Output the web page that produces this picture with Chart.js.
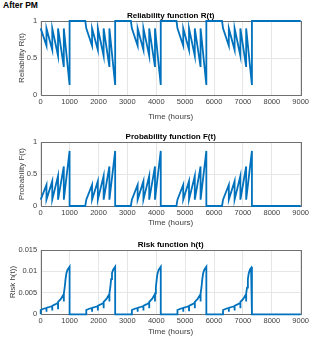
<!DOCTYPE html>
<html>
<head>
<meta charset="utf-8">
<script src="https://cdn.jsdelivr.net/npm/chart.js@4.4.1/dist/chart.umd.min.js"></script>
<style>
  body { margin: 0; background: #fff; width: 313px; height: 342px; position: relative; overflow: hidden; }
  #hdr { position: absolute; left: 3px; top: 0; font: bold 8.5px "Liberation Sans", Arial, sans-serif; color: #000; }
  canvas { position: absolute; left: 0; }
</style>
</head>
<body>
<div id="hdr">After PM</div>
<canvas id="c1" width="313" height="122" style="top:0"></canvas>
<canvas id="c2" width="313" height="108" style="top:122px"></canvas>
<canvas id="c3" width="313" height="112" style="top:230px"></canvas>
<script>
// data
const cycleStarts = [0, 1578, 3156, 4734, 6312]; // hours
const rampLead = 35;   // later cycles slide from the rest value 35 h before the start
const tEnd = 9000;

// one maintenance cycle, time relative to its start
const toothT = [0, 200, 200, 400, 400, 600, 600, 800, 800, 1000, 1000];
const relR   = [0.9, 0.666, 0.9, 0.61, 0.9, 0.53, 0.9, 0.38, 0.9, 0.135, 1];
const probF  = [0.1, 0.334, 0.1, 0.39, 0.1, 0.47, 0.1, 0.62, 0.1, 0.865, 0];

const riskT = [0, 0, 100, 198, 200, 203, 300, 398, 400, 403, 500, 598, 600, 603,
               700, 760, 798, 800, 803, 830, 860, 890, 930, 970, 1000, 1000];
const riskH = [0, 0.0010, 0.0013, 0.0015, 0.0006, 0.0015, 0.0017, 0.0019, 0.0009, 0.0020,
               0.0023, 0.0027, 0.0014, 0.0029, 0.0036, 0.0043, 0.0047, 0.0030, 0.0049,
               0.0062, 0.0082, 0.0096, 0.0104, 0.0108, 0.0111, 0];

const xTicks = [0, 1000, 2000, 3000, 4000, 5000, 6000, 7000, 8000, 9000];

function build(ts, vs, rest) {
  const pts = [];
  cycleStarts.forEach((s, i) => {
    if (i > 0) pts.push({x: s - rampLead, y: rest});
    ts.forEach((t, j) => pts.push({x: s + t, y: vs[j]}));
  });
  pts.push({x: tEnd, y: rest});
  return pts;
}

const FONT = '"Liberation Sans", Arial, sans-serif';
const TXT = '#404040';

// axes box + subplot title, MATLAB style
const frame = {
  id: 'frame',
  beforeDatasetsDraw(chart) {
    const {ctx, chartArea: a} = chart;
    ctx.save();
    ctx.strokeStyle = '#707070';
    ctx.lineWidth = 1;
    ctx.strokeRect(Math.round(a.left) + 0.5, Math.round(a.top) + 0.5,
                   Math.round(a.right - a.left), Math.round(a.bottom - a.top));
    ctx.restore();
  },
  afterDraw(chart, args, opts) {
    const {ctx, chartArea: a} = chart;
    ctx.save();
    ctx.font = 'bold 8px ' + FONT;
    ctx.fillStyle = '#000';
    ctx.textAlign = 'center';
    ctx.textBaseline = 'middle';
    ctx.fillText(opts.text, (a.left + a.right) / 2, a.top - 5.5);
    ctx.restore();
  }
};

function makeChart(id, pts, cfg) {
  return new Chart(document.getElementById(id), {
    type: 'line',
    data: {
      datasets: [{
        data: pts,
        borderColor: '#0072BD',
        borderWidth: 1.8,
        pointRadius: 0,
        tension: 0,
        fill: false,
        clip: false
      }]
    },
    options: {
      responsive: false,
      animation: false,
      events: [],
      layout: {padding: {top: cfg.padTop, right: 12.3, bottom: cfg.padBottom, left: 0}},
      plugins: {legend: {display: false}, tooltip: {enabled: false}, frame: {text: cfg.title}},
      scales: {
        x: {
          type: 'linear', min: 0, max: tEnd,
          afterBuildTicks: s => { s.ticks = xTicks.map(v => ({value: v})); },
          ticks: {callback: v => String(v), color: TXT, font: {family: FONT, size: 7.5},
                  padding: 2, maxRotation: 0, autoSkip: false},
          grid: {color: '#e6e6e6', drawTicks: false},
          border: {display: false},
          title: {display: true, text: 'Time (hours)', color: TXT,
                  font: {family: FONT, size: 8}, padding: {top: 0, bottom: 0}},
          afterFit: s => { s.height = cfg.xH; }
        },
        y: {
          min: 0, max: cfg.yMax,
          afterBuildTicks: s => { s.ticks = cfg.yTicks.map(v => ({value: v})); },
          ticks: {callback: v => String(v), color: TXT, font: {family: FONT, size: 7.5}, padding: 3.5},
          grid: {color: '#e6e6e6', drawTicks: false},
          border: {display: false},
          title: {display: true, text: cfg.yLabel, color: TXT,
                  font: {family: FONT, size: 8}, padding: {top: cfg.yTitlePad, bottom: 0}},
          afterFit: s => { s.width = 40.7; }
        }
      }
    },
    plugins: [frame]
  });
}

makeChart('c1', build(toothT, relR, 1), {
  title: 'Reliability function R(t)', yLabel: 'Reliability R(t)',
  yMax: 1, yTicks: [0, 0.5, 1], padTop: 21, padBottom: 0, xH: 27, yTitlePad: 17
});
makeChart('c2', build(toothT, probF, 0), {
  title: 'Probability function F(t)', yLabel: 'Probability F(t)',
  yMax: 1, yTicks: [0, 0.5, 1], padTop: 20.3, padBottom: 2.2, xH: 21.8, yTitlePad: 17
});
makeChart('c3', build(riskT, riskH, 0), {
  title: 'Risk function h(t)', yLabel: 'Risk h(t))',
  yMax: 0.015, yTicks: [0, 0.005, 0.01, 0.015], padTop: 20, padBottom: 5.2, xH: 22.5, yTitlePad: 7.7
});
</script>
</body>
</html>
